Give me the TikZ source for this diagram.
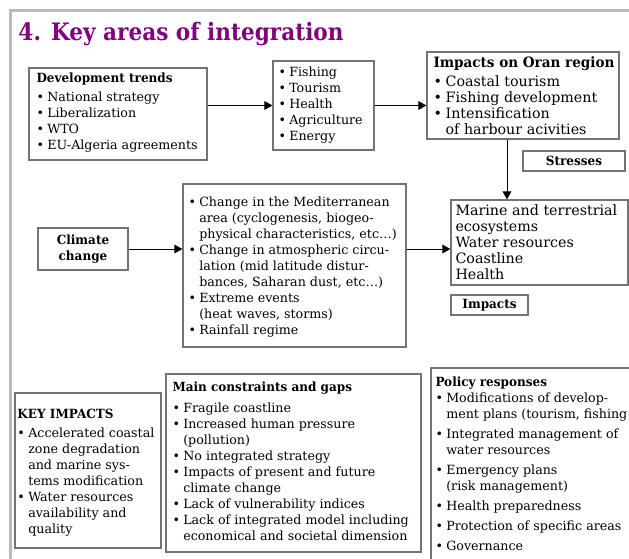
\documentclass[tikz,border=0pt]{standalone}
\usepackage{fontspec}
\setmainfont{DejaVu Serif}[BoldFeatures={FakeStretch=0.95}]
\newfontfamily\titlefont[FakeStretch=0.9]{DejaVu Serif}
\usetikzlibrary{arrows.meta,fit}

\newcommand{\bul}{\makebox[0.85em][l]{\textbullet}}
\newcommand{\ind}{\hspace*{0.85em}}
\newcommand{\firstln}{\rule{0pt}{8pt}}

\tikzset{every picture/.style={line width=0.75pt}}
\tikzset{
  panel/.style={draw={rgb, 255:red, 115; green, 115; blue, 115}, line width=0.9pt, inner sep=0pt},
  body/.style={anchor=north west, inner sep=0pt, align=left, font=\fontsize{9.5}{12}\selectfont},
  large body/.style={body, font=\fontsize{10.7}{12}\selectfont},
  boxtitle/.style={inner sep=0pt, align=center, font=\fontsize{9.5}{12}\selectfont\bfseries},
  flow/.style={-{Triangle[length=6pt,width=6.5pt]}, line width=0.75pt},
}

\begin{document}
\begin{tikzpicture}[x=0.75pt,y=0.75pt,yscale=-1,xscale=1]
\useasboundingbox (0,0) rectangle (629,558);
\clip (0,0) rectangle (629,558);

%Frame
\draw [color={rgb, 255:red, 185; green, 185; blue, 185}, line width=2pt] (10.5,570) -- (10.5,10.5) -- (640,10.5);

% Text Node
\node [anchor=base west, inner sep=0pt, font=\titlefont\fontsize{18}{20}\selectfont\bfseries, color={rgb, 255:red, 128; green, 0; blue, 128}] (title) at (18,40.7) {4. Key areas of integration};

%Shape: Rectangle
\node [panel, fit={(29,68) (207,160)}] (dev) {};
\node [panel, fit={(273,61) (374,150)}] (sec) {};
\node [panel, fit={(427,52) (619,139)}] (oran) {};
\node [panel, fit={(523,151) (625,171)}] (stress) {};
\node [panel, fit={(451,200) (628,285)}] (marine) {};
\node [panel, fit={(451,295) (528,315)}] (impact) {};
\node [panel, fit={(38,228) (128,270)}] (climate) {};
\node [panel, fit={(183,184) (406,347)}] (med) {};
\node [panel, fit={(15,393) (161,548)}] (key) {};
\node [panel, fit={(166,374) (421,552)}] (gaps) {};
\node [panel, fit={(431,368) (640,570)}] (policy) {};

%Straight Lines
\draw [flow] (dev.east |- sec.west) -- (sec.west);
\draw [flow] (sec.east) -- (sec.east -| oran.west);
\draw [flow] ([xshift=-12pt]oran.south) -- ([xshift=-12pt]oran.south |- marine.north);
\draw [flow] (climate.east) -- (climate.east -| med.west);
\draw [flow] (med.east |- climate.east) -- (marine.west |- climate.east);

% Text Node
\node [body] (devtxt) at (36,71.3) {\firstln\textbf{Development trends}\\[2.25pt]
\bul National strategy\\ \bul Liberalization\\ \bul WTO\\ \bul EU-Algeria agreements};
% Text Node
\node [body] (sectxt) at (278,65.3) {\firstln\bul Fishing\\ \bul Tourism\\ \bul Health\\ \bul Agriculture\\ \bul Energy};
% Text Node
\node [large body] (orantxt) at (433,56.3) {\firstln\textbf{Impacts on Oran region}\\[2.25pt]
\bul Coastal tourism\\ \bul Fishing development\\ \bul Intensification\\ \ind of harbour acivities};
% Text Node
\node [boxtitle] (stresstxt) at (stress) {Stresses};
% Text Node
\node [large body] (marinetxt) at (455,203.8) {\firstln Marine and terrestrial\\ ecosystems\\ Water resources\\ Coastline\\ Health};
% Text Node
\node [boxtitle] (impacttxt) at (impact) {Impacts};
% Text Node
\node [boxtitle] (climatetxt) at (climate) {Climate\\ change};
% Text Node
\node [body] (medtxt) at (188,195.3) {\firstln\bul Change in the Mediterranean\\ \ind area (cyclogenesis, biogeo-\\ \ind physical characteristics, etc…)\\
\bul Change in atmospheric circu-\\ \ind lation (mid latitude distur-\\ \ind bances, Saharan dust, etc…)\\
\bul Extreme events\\ \ind (heat waves, storms)\\ \bul Rainfall regime};
% Text Node
\node [body] (keytxt) at (17,407.3) {\firstln\textbf{KEY IMPACTS}\\[2.25pt]
\bul Accelerated coastal\\ \ind zone degradation\\ \ind and marine sys-\\ \ind tems modification\\
\bul Water resources\\ \ind availability and\\ \ind quality};
% Text Node
\node [body] (gapstxt) at (172,380.3) {\firstln\textbf{Main constraints and gaps}\\[3.5pt]
\bul Fragile coastline\\ \bul Increased human pressure\\ \ind (pollution)\\ \bul No integrated strategy\\
\bul Impacts of present and future\\ \ind climate change\\ \bul Lack of vulnerability indices\\
\bul Lack of integrated model including\\ \ind economical and societal dimension};
% Text Node
\node [body] (policytxt) at (435,375) {\firstln\textbf{Policy responses}\\[0.5pt]
\bul Modifications of develop-\\ \ind ment plans (tourism, fishing\\[3pt]
\bul Integrated management of\\ \ind water resources\\[3pt]
\bul Emergency plans\\ \ind (risk management)\\[3pt]
\bul Health preparedness\\[3pt] \bul Protection of specific areas\\[3pt] \bul Governance};

\end{tikzpicture}
\end{document}
